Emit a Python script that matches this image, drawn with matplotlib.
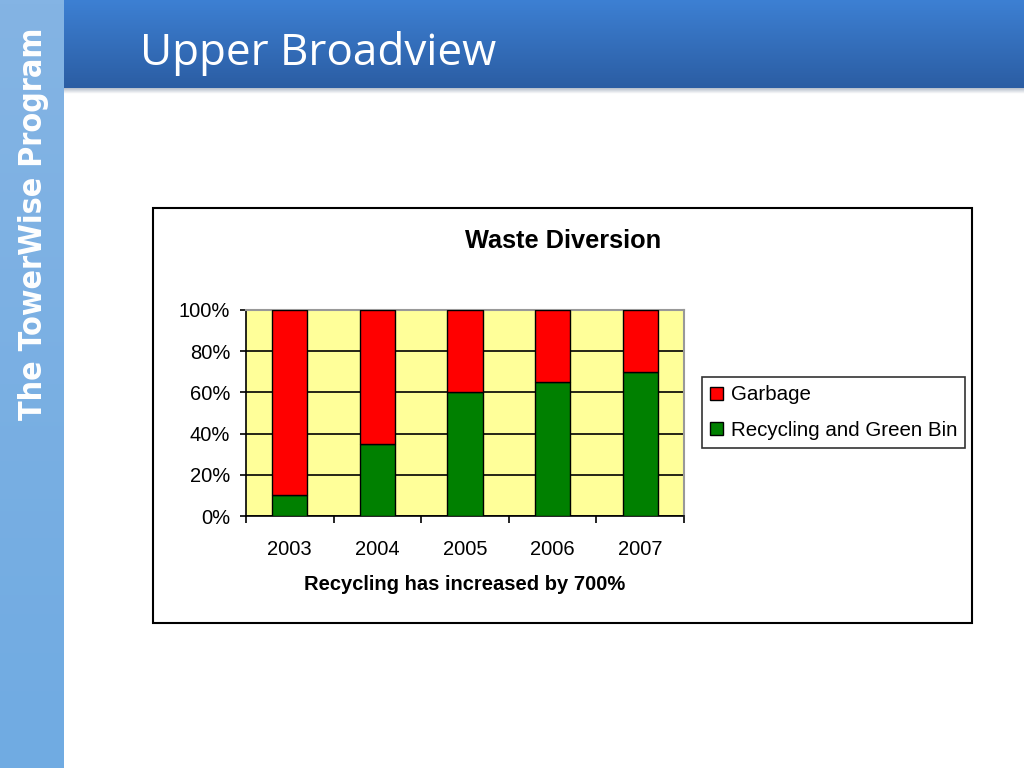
import numpy as np
import matplotlib
matplotlib.use("Agg")
import matplotlib.pyplot as plt
from matplotlib.patches import Rectangle
from matplotlib.ticker import FixedLocator, PercentFormatter

years = ["2003", "2004", "2005", "2006", "2007"]
recycling = [10, 35, 60, 65, 70]
garbage = [90, 65, 40, 35, 30]
yticks = [0, 20, 40, 60, 80, 100]

W, H = 1024, 768
fig = plt.figure(figsize=(W / 100, H / 100), dpi=100)
fig.patch.set_facecolor("white")

# background / slide decoration
bg = fig.add_axes([0, 0, 1, 1])
bg.set_xlim(0, W)
bg.set_ylim(H, 0)
bg.axis("off")

# header gradient
hgrad = np.linspace(0, 1, 100).reshape(-1, 1)
top = np.array([0x3d, 0x80, 0xd3]) / 255
bot = np.array([0x2b, 0x5d, 0xa3]) / 255
himg = top[None, None, :] * (1 - hgrad[..., None]) + bot[None, None, :] * hgrad[..., None]
bg.imshow(himg, extent=(64, W, 88, 0), aspect="auto", zorder=1)
# shadow under header
sgrad = np.linspace(0, 1, 10).reshape(-1, 1)
s1 = np.array([0.72, 0.75, 0.80]); s2 = np.array([1.0, 1.0, 1.0])
simg = s1[None, None, :] * (1 - sgrad[..., None]) + s2[None, None, :] * sgrad[..., None]
bg.imshow(simg, extent=(64, W, 94, 88), aspect="auto", zorder=1)

# sidebar sky gradient
vgrad = np.linspace(0, 1, 200).reshape(-1, 1)
st = np.array([0x84, 0xb4, 0xe4]) / 255
sb = np.array([0x70, 0xab, 0xe2]) / 255
vimg = st[None, None, :] * (1 - vgrad[..., None]) + sb[None, None, :] * vgrad[..., None]
bg.imshow(vimg, extent=(0, 64, H, 0), aspect="auto", zorder=1)
bg.set_xlim(0, W)
bg.set_ylim(H, 0)

bg.text(34, 224, "The TowerWise Program", rotation=90, color="white",
        fontsize=23, fontweight="bold", family="DejaVu Sans", fontstretch="condensed",
        ha="center", va="center", zorder=3)
bg.text(140, 54, "Upper Broadview", color="white", fontsize=31.7,
        family="Open Sans", ha="left", va="center", zorder=3)

# chart box
bg.add_patch(Rectangle((153, 208), 819, 415, facecolor="white",
                       edgecolor="black", linewidth=1.5, zorder=2))
bg.text(563, 241, "Waste Diversion", fontsize=18.3, fontweight="bold",
        family="Liberation Sans", ha="center", va="center", zorder=3)
bg.text(465, 585, "Recycling has increased by 700%", fontsize=14.5, fontweight="bold",
        family="Liberation Sans", ha="center", va="center", zorder=3)

# plot area
L, R, T, B = 246, 684, 310, 516
ax = fig.add_axes([L / W, (H - B) / H, (R - L) / W, (B - T) / H])
ax.set_zorder(5)
ax.set_facecolor("#FFFF99")
x = np.arange(len(years))
ax.bar(x, recycling, width=0.4, color="#008000", edgecolor="black", linewidth=1,
       label="Recycling and Green Bin", zorder=3)
ax.bar(x, garbage, width=0.4, bottom=recycling, color="#FF0000", edgecolor="black",
       linewidth=1, label="Garbage", zorder=3)
ax.set_xlim(-0.5, len(years) - 0.5)
ax.set_ylim(0, 100)
ax.set_yticks(yticks)
ax.yaxis.set_major_formatter(PercentFormatter(decimals=0))
ax.yaxis.grid(True, color="black", linewidth=1.2, zorder=1)
ax.set_axisbelow(True)
ax.set_xticks(x)
ax.set_xticklabels(years)
ax.xaxis.set_minor_locator(FixedLocator(np.arange(-0.5, len(years), 1)))
ax.tick_params(axis="x", which="major", length=0, pad=17.5, labelsize=14.5)
ax.tick_params(axis="x", which="minor", length=5, width=1.2, direction="out", color="black")
ax.tick_params(axis="y", length=4.5, width=1.2, direction="out", labelsize=14.5, pad=7)
for lab in ax.get_xticklabels() + ax.get_yticklabels():
    lab.set_family("Liberation Sans")
ax.spines["left"].set_color("black")
ax.spines["bottom"].set_color("black")
ax.spines["left"].set_linewidth(1.2)
ax.spines["bottom"].set_linewidth(1.2)
ax.spines["top"].set_color("#999999")
ax.spines["right"].set_color("#999999")
ax.spines["top"].set_linewidth(1.5)
ax.spines["right"].set_linewidth(1.5)

handles, labels = ax.get_legend_handles_labels()
leg = fig.legend(handles[::-1], labels[::-1], loc="center left",
                 bbox_to_anchor=(702 / W, (H - 412.5) / H),
                 frameon=True, fancybox=False, edgecolor="black",
                 prop={"family": "Liberation Sans", "size": 14.8},
                 handlelength=0.6, handleheight=0.6, handletextpad=0.4,
                 labelspacing=0.78, borderpad=0.4, borderaxespad=0)
leg.get_frame().set_linewidth(1.2)
leg.set_zorder(6)

fig.savefig("out.png", dpi=100)
